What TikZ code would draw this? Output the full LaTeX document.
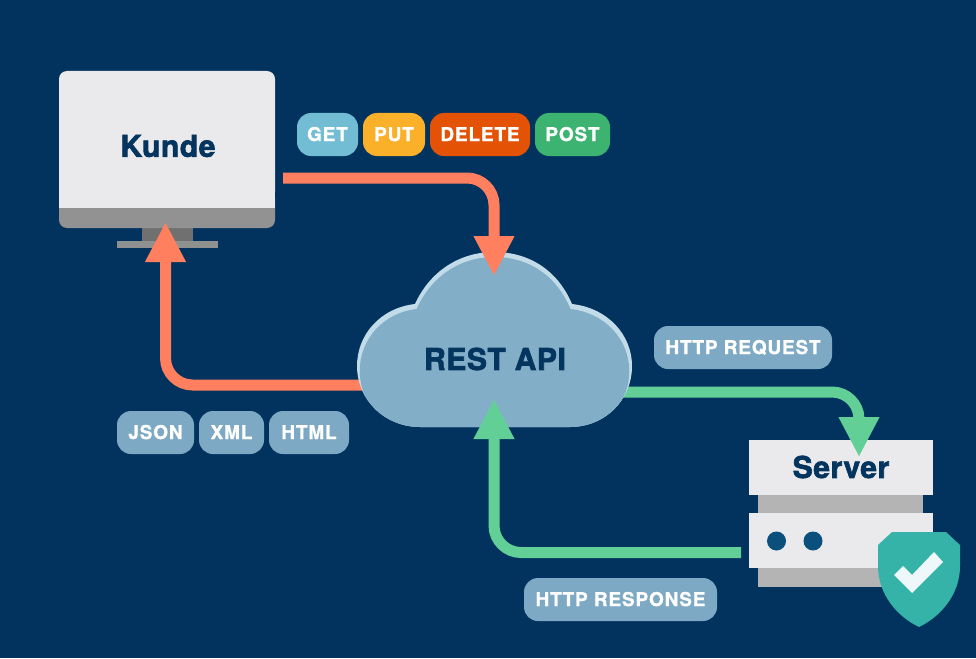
\documentclass[tikz,border=0pt]{standalone}
\usepackage{fontspec}
\setmainfont{TeX Gyre Heros}[BoldFeatures={FakeBold=2.2,LetterSpace=2}]
\newfontfamily\pillfont{TeX Gyre Heros}[BoldFeatures={FakeBold=1.1,LetterSpace=4.5}]
\usetikzlibrary{arrows.meta}
\definecolor{bg}{HTML}{01335E}
\definecolor{navy}{HTML}{04355F}
\definecolor{screen}{HTML}{EAEAEC}
\definecolor{strip}{HTML}{929292}
\definecolor{standc}{HTML}{707070}
\definecolor{basec}{HTML}{8F9090}
\definecolor{srvgray}{HTML}{B4B4B4}
\definecolor{dotc}{HTML}{0B4F7C}
\definecolor{teal}{HTML}{36B3A8}
\definecolor{checkc}{HTML}{EEF8FB}
\definecolor{cloudc}{HTML}{83AEC8}
\definecolor{cloude}{HTML}{C2DBE9}
\definecolor{redc}{HTML}{FF7F5E}
\definecolor{greenc}{HTML}{62D096}
\definecolor{pillblue}{HTML}{7EA9C4}
\definecolor{pillget}{HTML}{72BCD4}
\definecolor{pillput}{HTML}{FBB02A}
\definecolor{pilldel}{HTML}{E35205}
\definecolor{pillpost}{HTML}{3CB371}
\newcommand{\cloudpath}{(415,304) .. controls (430,271) and (460,252) .. (494,252)
  .. controls (530,252) and (558,271) .. (572,304)
  .. controls (608,308) and (632,335) .. (632,366)
  .. controls (632,400) and (605,427) .. (570,427)
  -- (420,427) .. controls (385,427) and (357,400) .. (357,366)
  .. controls (357,335) and (380,308) .. (415,304) -- cycle}
\tikzset{
  x=1pt,y=-1pt,
  pill/.style={rounded corners=14pt,minimum height=43pt,inner sep=0pt,text height=13pt,text depth=0pt,text=white,font=\pillfont\bfseries\fontsize{19}{21}\selectfont,anchor=center},
  conn/.style={line width=11pt,rounded corners=27pt,-{Triangle[length=40pt,width=38pt]}},
  redconn/.style={conn,draw=redc,color=redc},
  greenconn/.style={conn,draw=greenc,color=greenc},
  bigtext/.style={text=navy,font=\bfseries\fontsize{30}{32}\selectfont,inner sep=0pt},
}
\begin{document}
\begin{tikzpicture}
\useasboundingbox[fill=bg] (0,0) rectangle (976,658);
% monitor
\fill[standc] (142,226) rectangle (193,241);
\fill[basec] (117,241) rectangle (218,248);
\fill[strip,rounded corners=8pt] (59,190) rectangle (275,228);
\fill[screen,rounded corners=8pt] (59,200) -- (59,71) -- (275,71) -- (275,200) -- cycle;
\fill[screen] (59,190) rectangle (275,208);
\node[bigtext] (kunde) at (168,146) {Kunde};
% server
\fill[srvgray] (758,495) rectangle (923,513);
\fill[srvgray] (758,568) rectangle (923,587);
\fill[screen] (749,440) rectangle (933,495);
\fill[screen] (749,513) rectangle (933,568);
\node[bigtext] (server) at (841,467) {Server};
\fill[dotc] (776.5,541) circle (9.5);
\fill[dotc] (813,541) circle (9.5);
% named connector ends
\coordinate (monitorin) at (165.5,222);
\coordinate (monitorout) at (283,178);
\coordinate (cloudtop) at (494,276);
\coordinate (cloudbottom) at (494,399);
\coordinate (cloudleft) at (370,385);
\coordinate (cloudright) at (615,392);
\coordinate (serverin) at (859,457);
\coordinate (serverout) at (741,552.5);
% connectors that run under the cloud
\draw[redconn] (cloudleft) -- (cloudleft -| monitorin) -- (monitorin);
\draw[greenconn] (cloudright) -- (cloudright -| serverin) -- (serverin);
% cloud: light rim tapering towards the bottom
\fill[cloude] \cloudpath;
\begin{scope}
  \clip \cloudpath;
  \fill[cloudc,shift={(494.5,5)},xscale=0.98,shift={(-494.5,0)}] \cloudpath;
\end{scope}
\node[bigtext] (api) at (495,359) {REST API};
% connectors over the cloud
\draw[redconn] (monitorout) -- (monitorout -| cloudtop) -- (cloudtop);
\draw[greenconn] (serverout) -- (serverout -| cloudbottom) -- (cloudbottom);
% shield
\fill[teal] (892,532) -- (946,532) -- (960,545) -- (960,566)
  .. controls (960,595) and (940,617) .. (919,627)
  .. controls (898,617) and (878,595) .. (878,566) -- (878,545) -- cycle;
\fill[checkc] (894,575) -- (903,566) -- (912,575) -- (934,552) -- (943,562) -- (912,593) -- cycle;
% pills
\node[pill,fill=pillget,minimum width=61pt] (get) at (327.5,134.5) {GET};
\node[pill,fill=pillput,minimum width=62pt] (put) at (394,134.5) {PUT};
\node[pill,fill=pilldel,minimum width=100pt] (delete) at (480,134.5) {DELETE};
\node[pill,fill=pillpost,minimum width=75pt] (post) at (572.5,134.5) {POST};
\node[pill,fill=pillblue,minimum width=178pt] (req) at (743,347.5) {HTTP REQUEST};
\node[pill,fill=pillblue,minimum width=77pt] (json) at (155.5,432.5) {JSON};
\node[pill,fill=pillblue,minimum width=65pt] (xml) at (231.5,432.5) {XML};
\node[pill,fill=pillblue,minimum width=80pt] (html) at (309,432.5) {HTML};
\node[pill,fill=pillblue,minimum width=193pt] (resp) at (620.5,599.5) {HTTP RESPONSE};
\end{tikzpicture}
\end{document}
